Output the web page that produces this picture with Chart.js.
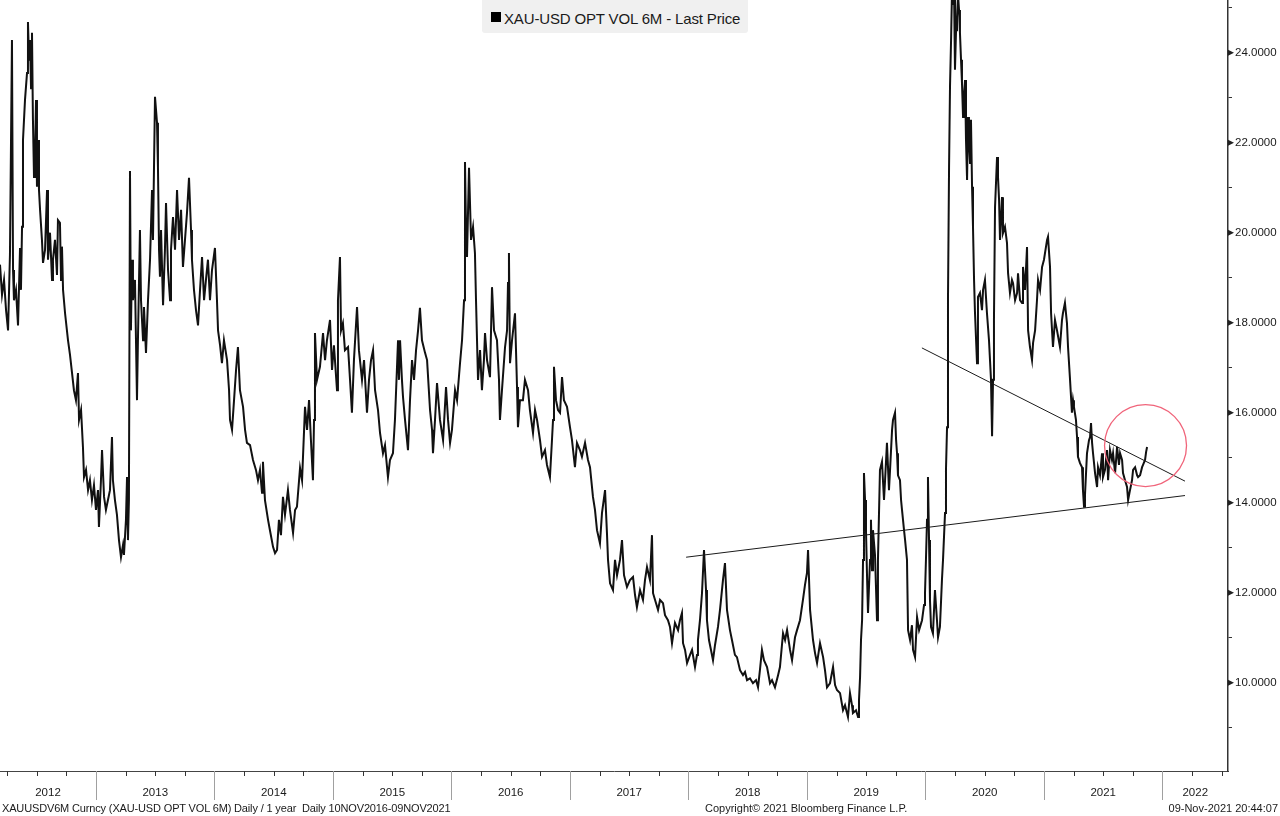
<!DOCTYPE html>
<html>
<head>
<meta charset="utf-8">
<script src="https://cdn.jsdelivr.net/npm/chart.js@4.4.1/dist/chart.umd.min.js"></script>
<style>
html,body{margin:0;padding:0;background:#fff;}
#wrap{position:relative;width:1280px;height:816px;overflow:hidden;font-family:"Liberation Sans",Arial,sans-serif;color:#1a1a1a;}
#c{position:absolute;left:0;top:0;}
.legend{position:absolute;left:482px;top:0;width:266px;height:33px;background:#f0f0f0;border-radius:0 0 3px 3px;}
.legend .sw{position:absolute;left:9px;top:12px;width:10px;height:10px;background:#000;}
.legend .tx{position:absolute;left:22px;top:11px;font-size:15px;line-height:15px;white-space:nowrap;letter-spacing:-0.15px;}
.foot{position:absolute;top:803px;font-size:11px;line-height:11px;white-space:nowrap;}
</style>
</head>
<body>
<div id="wrap">
<canvas id="c" width="1280" height="816"></canvas>
<div class="legend"><div class="sw"></div><div class="tx">XAU-USD OPT VOL 6M - Last Price</div></div>
<div class="foot" style="left:2px;letter-spacing:-0.15px;">XAUUSDV6M Curncy (XAU-USD OPT VOL 6M) Daily / 1 year&nbsp; Daily 10NOV2016-09NOV2021</div>
<div class="foot" style="left:705px;">Copyright© 2021 Bloomberg Finance L.P.</div>
<div class="foot" style="right:2px;">09-Nov-2021 20:44:07</div>
</div>
<script>
// ---- data (decimal-year dates, 6M implied vol) ----
const dates = [
2012.190,2012.207,2012.224,2012.241,2012.258,2012.274,2012.291,2012.300,2012.308,2012.325,2012.342,2012.359,2012.367,2012.376,2012.384,2012.401,2012.418,2012.426,2012.435,2012.443,2012.452,2012.460,2012.468,2012.477,2012.485,2012.494,2012.502,2012.511,2012.519,2012.528,2012.544,2012.553,2012.570,2012.587,2012.595,2012.612,2012.629,2012.637,2012.654,2012.671,2012.679,2012.696,2012.705,2012.713,2012.722,
2012.739,2012.764,2012.781,2012.798,2012.814,2012.831,2012.848,2012.857,2012.874,2012.890,2012.899,2012.916,2012.933,2012.949,2012.966,2012.983,2013.000,2013.017,2013.025,2013.042,2013.051,2013.068,2013.084,2013.101,2013.118,2013.135,2013.143,2013.160,2013.177,2013.194,2013.211,2013.228,2013.236,2013.253,2013.262,2013.270,2013.278,2013.287,
2013.295,2013.304,2013.312,2013.329,2013.346,2013.354,2013.371,2013.380,2013.397,2013.405,2013.422,2013.439,2013.456,2013.473,2013.481,2013.498,2013.515,2013.523,2013.532,2013.540,2013.549,2013.566,2013.582,2013.591,2013.608,2013.625,2013.633,2013.650,2013.667,2013.684,2013.701,2013.718,2013.734,2013.751,2013.768,2013.785,2013.802,2013.810,2013.827,2013.844,2013.861,2013.878,2013.895,2013.912,2013.928,2013.945,2013.962,2013.979,2014.004,2014.021,
2014.030,2014.047,2014.063,2014.080,2014.106,2014.123,2014.131,2014.148,2014.165,2014.182,2014.198,2014.215,2014.241,2014.258,2014.274,2014.300,2014.325,2014.350,2014.367,2014.384,2014.401,2014.409,2014.426,2014.452,2014.468,2014.494,2014.511,2014.528,2014.544,2014.561,2014.578,2014.595,2014.620,2014.637,2014.663,2014.680,2014.696,
2014.722,2014.739,2014.764,2014.781,2014.798,2014.814,2014.831,2014.840,2014.848,2014.865,2014.890,2014.916,2014.933,2014.949,2014.975,2014.992,2015.008,2015.034,2015.042,2015.059,2015.068,2015.084,2015.101,2015.127,2015.144,2015.160,2015.177,2015.203,2015.219,2015.245,2015.262,2015.287,2015.304,2015.321,2015.338,2015.355,2015.380,2015.397,2015.422,2015.439,2015.464,2015.481,2015.506,2015.523,2015.549,2015.557,
2015.566,2015.582,2015.591,2015.608,2015.633,2015.650,2015.667,2015.684,2015.701,2015.718,2015.734,2015.751,2015.777,2015.794,2015.819,2015.836,2015.844,2015.861,2015.878,2015.903,2015.929,2015.954,2015.971,2015.988,2016.004,2016.030,2016.047,2016.072,2016.089,2016.106,2016.114,2016.123,2016.131,2016.148,2016.165,2016.182,2016.198,
2016.207,2016.224,2016.241,2016.257,2016.274,2016.283,2016.300,2016.325,2016.342,2016.359,2016.384,2016.401,2016.409,2016.426,2016.452,2016.469,2016.477,2016.485,2016.494,2016.511,2016.536,2016.553,2016.561,2016.578,2016.603,2016.620,2016.646,2016.662,2016.688,2016.705,2016.722,2016.747,2016.764,2016.789,2016.806,2016.831,2016.848,2016.857,2016.865,2016.882,2016.899,2016.916,2016.933,2016.949,2016.975,2017.000,2017.017,2017.042,2017.059,2017.084,2017.101,2017.127,2017.152,2017.169,2017.194,2017.211,2017.228,2017.253,2017.270,2017.296,2017.312,2017.321,
2017.338,2017.363,2017.380,2017.397,2017.422,2017.439,2017.456,2017.481,2017.506,2017.532,2017.549,2017.565,2017.591,2017.616,2017.633,2017.650,2017.675,2017.692,2017.701,2017.718,2017.743,2017.760,2017.785,2017.802,2017.827,2017.844,2017.861,2017.886,2017.912,2017.928,2017.945,2017.954,2017.971,2017.988,2018.013,2018.030,2018.055,2018.072,2018.080,2018.097,2018.114,2018.131,
2018.148,2018.156,2018.173,2018.190,2018.207,2018.224,2018.249,2018.266,2018.291,2018.308,2018.325,2018.350,2018.367,2018.392,2018.409,2018.435,2018.460,2018.477,2018.494,2018.519,2018.544,2018.570,2018.587,2018.603,2018.620,2018.637,2018.663,2018.688,2018.705,2018.730,2018.756,2018.772,2018.798,2018.815,2018.832,2018.857,2018.874,2018.899,2018.916,2018.941,
2018.966,2018.983,2019.000,2019.009,2019.026,2019.051,2019.068,2019.085,2019.110,2019.136,2019.152,2019.169,2019.194,2019.220,2019.237,2019.253,2019.279,2019.304,2019.321,2019.346,2019.363,2019.380,2019.388,2019.414,2019.431,2019.439,2019.448,2019.456,2019.465,2019.473,2019.481,
2019.490,2019.498,2019.507,2019.515,2019.532,2019.540,2019.549,2019.557,2019.574,2019.591,2019.599,2019.616,2019.633,2019.650,2019.659,2019.675,2019.692,2019.701,2019.718,2019.726,2019.743,2019.752,2019.760,2019.768,2019.785,2019.794,2019.802,2019.819,2019.828,2019.844,2019.853,2019.870,2019.886,2019.895,2019.912,2019.929,2019.946,2019.971,2019.988,2019.996,2020.004,2020.013,2020.021,2020.030,2020.038,2020.047,2020.063,2020.080,2020.097,2020.106,2020.122,2020.139,2020.148,2020.165,2020.173,2020.182,2020.190,2020.199,2020.207,2020.216,2020.224,
2020.232,2020.241,2020.249,2020.258,2020.266,2020.275,2020.283,2020.291,2020.300,2020.308,2020.317,2020.325,2020.334,2020.342,2020.351,2020.359,2020.367,2020.376,2020.384,2020.393,2020.401,2020.410,2020.418,2020.435,2020.443,2020.460,2020.477,2020.486,2020.502,2020.519,2020.536,2020.553,2020.562,2020.570,2020.578,2020.587,2020.604,2020.612,2020.621,2020.629,
2020.646,2020.654,2020.671,2020.688,2020.697,2020.713,2020.730,2020.739,2020.756,2020.773,2020.781,2020.798,2020.815,2020.823,2020.840,2020.857,2020.866,2020.882,2020.899,2020.908,2020.925,2020.941,2020.950,2020.967,2020.984,2021.000,2021.026,2021.034,2021.051,2021.060,2021.076,2021.093,2021.110,2021.135,2021.152,2021.160,2021.177,2021.194,2021.203,2021.220,2021.236,2021.245,2021.253,2021.270,2021.279,2021.287,2021.304,2021.321,2021.329,2021.338,2021.346,2021.363,2021.380,2021.389,2021.397,
2021.406,2021.414,2021.431,2021.448,2021.456,2021.473,2021.490,2021.498,2021.515,2021.532,2021.541,2021.557,2021.574,2021.583,2021.600,2021.617,2021.633,2021.642,2021.659,2021.667,2021.684,2021.701,2021.710,2021.726,2021.743,2021.752,2021.769,2021.786,2021.794,2021.811,2021.828,2021.836,2021.853,2021.862,2021.870
];
const vol = [
19.29,18.62,18.95,18.28,17.83,19.51,24.28,19.17,18.50,18.73,17.94,19.66,18.73,20.13,22.06,22.95,23.55,24.68,23.84,24.28,23.21,24.44,22.51,21.24,21.62,22.95,21.02,22.06,20.95,20.51,19.84,19.33,19.62,20.95,19.40,20.00,18.95,19.40,19.84,19.06,20.28,20.22,18.95,19.69,18.73,
18.21,17.61,17.28,16.88,16.50,16.28,16.88,15.84,16.06,15.24,14.57,14.73,14.28,14.50,14.06,14.39,13.84,14.28,13.46,14.50,15.17,14.13,13.84,14.06,14.28,15.46,14.50,14.06,13.73,13.17,12.79,13.06,12.84,13.62,14.57,13.17,14.06,21.37,
17.83,19.40,18.50,18.95,16.28,17.61,20.06,18.50,17.61,18.35,17.33,18.50,19.40,20.95,19.84,23.02,22.44,21.46,19.62,19.02,20.06,18.39,19.62,20.66,19.17,18.50,19.62,20.35,19.62,20.95,19.84,20.51,19.24,19.84,20.44,21.22,20.06,19.40,18.73,18.28,17.94,18.73,19.46,18.50,18.95,19.40,18.50,19.17,19.66,18.50,
17.83,17.50,17.10,17.61,17.17,16.50,15.84,15.62,16.28,16.95,17.46,16.50,16.13,15.62,15.33,15.28,14.95,14.73,14.50,14.73,14.22,14.91,14.06,13.62,13.39,13.02,12.88,12.95,13.62,13.28,14.13,13.73,14.28,13.84,13.33,13.84,13.91,
14.77,14.50,16.13,15.62,16.28,15.39,14.50,15.84,17.77,16.73,17.02,17.77,17.17,17.61,18.06,16.95,17.50,16.50,18.50,19.46,17.83,17.99,17.39,17.46,16.73,16.00,17.17,18.35,17.39,16.73,17.17,16.00,16.73,17.17,17.39,16.50,16.06,15.55,15.10,15.28,14.57,14.95,15.10,15.84,17.61,16.73,
17.61,16.73,16.35,15.84,15.17,16.28,17.17,16.73,17.39,17.83,18.33,17.61,17.33,17.17,16.06,15.62,15.10,15.84,16.66,15.84,15.39,16.57,15.84,15.33,15.62,16.50,16.28,17.10,17.61,18.50,21.57,20.06,19.46,21.44,19.84,20.13,19.55,
18.50,16.73,17.39,16.50,17.17,17.77,17.17,16.79,18.79,17.83,17.61,16.73,15.84,16.50,17.46,17.83,18.88,19.55,17.10,17.61,18.21,16.57,15.68,16.28,16.28,16.73,16.50,16.06,15.55,16.06,15.84,15.39,15.02,15.17,14.84,14.57,15.39,15.84,17.02,16.28,16.06,16.00,16.79,16.28,16.13,15.68,15.39,14.79,15.33,15.17,15.02,15.33,14.95,14.79,14.13,13.84,13.39,13.10,13.77,14.28,13.33,12.73,
12.21,12.06,12.73,12.39,12.73,13.17,12.39,12.13,12.28,12.35,11.95,11.68,12.06,11.84,12.28,12.57,12.28,13.28,11.99,11.84,11.62,11.84,11.77,11.50,11.39,11.24,10.88,11.33,11.17,11.39,11.55,10.88,10.73,10.44,10.62,10.73,10.35,10.62,10.95,11.39,11.99,12.95,
12.06,11.39,10.95,10.73,10.50,10.84,11.24,11.62,12.28,12.66,11.62,11.17,10.95,10.62,10.57,10.28,10.17,10.24,10.06,10.10,9.99,10.06,9.90,10.28,10.73,10.50,10.35,9.99,10.06,9.90,10.17,10.35,11.10,10.95,11.17,10.73,10.50,11.01,11.17,11.39,
11.84,12.17,12.44,12.95,11.62,10.95,10.66,10.44,10.88,10.57,10.28,9.90,9.99,10.35,9.95,9.84,9.77,9.39,9.50,9.24,9.77,9.50,9.33,9.39,9.24,9.61,10.13,10.95,11.39,12.73,14.66,
14.06,13.39,12.35,11.55,12.73,13.62,12.50,13.39,12.84,11.39,12.73,14.73,14.91,14.06,14.50,15.33,14.28,14.73,15.62,15.84,16.00,15.39,15.10,14.61,14.50,14.06,13.84,13.39,13.17,12.73,11.17,10.95,11.28,10.73,10.57,11.46,11.17,11.39,11.73,11.99,12.73,13.62,14.57,13.17,11.84,11.24,11.10,12.06,11.39,11.01,11.24,12.28,12.73,13.77,14.73,15.68,18.50,21.46,23.24,24.28,25.39,
25.06,25.39,23.62,24.50,24.79,25.28,24.95,24.44,23.84,23.33,22.57,23.06,23.39,22.06,21.17,22.57,22.06,21.55,22.51,21.02,20.13,18.95,18.21,17.10,18.57,18.66,18.28,18.73,18.95,18.21,17.61,16.73,15.48,16.73,18.06,20.57,21.68,21.24,20.73,19.84,
20.79,19.99,20.13,19.77,19.10,18.66,18.95,18.88,18.50,18.66,19.10,18.50,18.44,19.24,18.73,19.68,17.83,17.46,17.17,17.55,17.83,18.50,18.95,18.73,19.24,19.40,19.84,19.91,19.24,18.21,17.46,18.06,17.83,17.46,18.06,18.21,18.44,17.99,17.46,16.73,16.00,16.28,16.13,15.84,15.46,15.02,14.88,14.79,14.28,13.91,14.17,15.10,15.39,15.46,15.77,
15.33,15.10,14.66,14.35,14.79,14.61,15.10,14.57,14.73,15.17,14.50,15.17,14.95,15.10,14.66,15.24,14.84,15.10,14.95,14.66,14.50,14.35,14.06,14.28,14.50,14.73,14.79,14.61,14.57,14.61,14.79,14.84,14.95,15.13,15.24
];
// hand-drawn trend lines (two end points each)
const supportX = [2017.98, 2022.19];
const supportY = [12.79, 14.16];
const resistX = [2019.97, 2022.19];
const resistY = [17.44, 14.48];
// red circle annotation
const markX = [2021.857];
const markY = [15.27];
// axes
const yearLabels = ['2012','2013','2014','2015','2016','2017','2018','2019','2020','2021','2022'];
const yTicks = [9,10,11,12,13,14,15,16,17,18,19,20,21,22,23,24,25];
const xRange = [2012.19, 2022.553];
const yRange = [8.04, 25.17];

const toPts = (xs, ys) => xs.map((x, i) => ({x: x, y: ys[i]}));

const axisDecor = {
  id: 'axisDecor',
  afterDraw(chart) {
    const xs = chart.scales.x, ys = chart.scales.y, ctx = chart.ctx, top = xs.top;
    ctx.save();
    ctx.lineWidth = 1;
    ctx.strokeStyle = '#333';
    for (let y = Math.floor(xs.min); y <= Math.ceil(xs.max); y++) {
      [0.25, 0.5, 0.75].forEach(q => {
        const v = y + q;
        if (v <= xs.min || v >= xs.max) return;
        const px = Math.round(xs.getPixelForValue(v)) + 0.5;
        ctx.beginPath(); ctx.moveTo(px, top); ctx.lineTo(px, top + 5); ctx.stroke();
      });
    }
    ctx.strokeStyle = '#a0a0a0';
    yearLabels.forEach(l => {
      const v = +l;
      if (v <= xs.min || v >= xs.max) return;
      const px = Math.round(xs.getPixelForValue(v)) + 0.5;
      ctx.beginPath(); ctx.moveTo(px, top); ctx.lineTo(px, top + 29); ctx.stroke();
    });
    // small arrow markers on the major y ticks
    ctx.fillStyle = '#222';
    const lx = ys.left;
    yTicks.forEach(v => {
      if (v % 2 !== 0) return;
      const py = ys.getPixelForValue(v);
      ctx.beginPath(); ctx.moveTo(lx, py - 3); ctx.lineTo(lx + 6, py); ctx.lineTo(lx, py + 3); ctx.closePath(); ctx.fill();
    });
    ctx.restore();
  }
};

const font = {family: '"Liberation Sans", Arial, sans-serif', size: 11.5};

new Chart(document.getElementById('c'), {
  type: 'line',
  data: {
    datasets: [
      {data: toPts(dates, vol), borderColor: '#111', borderWidth: 2, pointRadius: 0, tension: 0, order: 3},
      {data: toPts(supportX, supportY), borderColor: '#1a1a1a', borderWidth: 1, pointRadius: 0, order: 2},
      {data: toPts(resistX, resistY), borderColor: '#1a1a1a', borderWidth: 1, pointRadius: 0, order: 2},
      {data: toPts(markX, markY), showLine: false, pointRadius: 41, pointHoverRadius: 41,
       pointBorderColor: '#f0647a', pointBackgroundColor: 'rgba(0,0,0,0)', pointBorderWidth: 1.3, order: 1}
    ]
  },
  options: {
    responsive: false,
    devicePixelRatio: 1,
    animation: false,
    events: [],
    layout: {padding: 0, autoPadding: false},
    plugins: {legend: {display: false}, tooltip: {enabled: false}},
    scales: {
      x: {
        type: 'linear', position: 'bottom', min: xRange[0], max: xRange[1],
        afterBuildTicks: s => {
          s.ticks = yearLabels.map(l => {
            const a = Math.max(+l, s.min), b = Math.min(+l + 1, s.max);
            return {value: (a + b) / 2};
          });
        },
        afterFit: s => { s.height = 45; s.paddingLeft = 0; s.paddingRight = 0; s.paddingTop = 0; s.paddingBottom = 0; },
        grid: {display: true, drawOnChartArea: false, drawTicks: false},
        border: {display: true, color: '#444', width: 1},
        ticks: {autoSkip: false, maxRotation: 0, padding: 15, color: '#1a1a1a', font: font,
                callback: (v, i) => yearLabels[i]}
      },
      y: {
        type: 'linear', position: 'right', min: yRange[0], max: yRange[1],
        afterBuildTicks: s => { s.ticks = yTicks.map(v => ({value: v})); },
        afterFit: s => { s.width = 52; s.paddingLeft = 0; s.paddingRight = 0; s.paddingTop = 0; s.paddingBottom = 0; },
        grid: {drawOnChartArea: false, drawTicks: true, tickLength: 4, color: '#333', tickColor: '#333', tickWidth: 1},
        border: {display: true, color: '#333', width: 1.5},
        ticks: {padding: 3, color: '#1a1a1a', font: font,
                callback: v => (v % 2 === 0 ? v.toFixed(4) : '')}
      }
    }
  },
  plugins: [axisDecor]
});
</script>
</body>
</html>
